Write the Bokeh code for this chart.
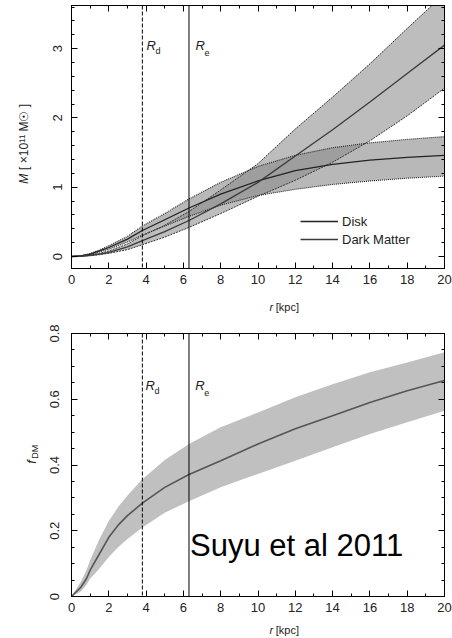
import math
from bokeh.plotting import figure
from bokeh.layouts import column, row
from bokeh.models import (Span, Label, Legend, LegendItem, LinearAxis, SingleIntervalTicker,
                          CustomJSTickFormatter, Range1d, CustomLabelingPolicy)
from bokeh.embed import file_html
from bokeh.resources import INLINE

# ---------------- data ----------------
r_mass = [0, 0.5, 1, 1.5, 2, 3, 3.8, 5, 6.3, 8, 10, 12, 14, 16, 18, 20]
disk_mid = [0, 0.01, 0.035, 0.08, 0.13, 0.25, 0.375, 0.53, 0.70, 0.90, 1.09, 1.24, 1.33, 1.39, 1.43, 1.46]
disk_hi = [0, 0.012, 0.042, 0.095, 0.155, 0.29, 0.44, 0.62, 0.83, 1.07, 1.30, 1.46, 1.57, 1.64, 1.69, 1.73]
disk_lo = [0, 0.008, 0.028, 0.065, 0.105, 0.21, 0.31, 0.44, 0.58, 0.74, 0.88, 0.97, 1.04, 1.09, 1.13, 1.16]
dm_mid = [0, 0.004, 0.015, 0.035, 0.06, 0.14, 0.23, 0.36, 0.52, 0.76, 1.07, 1.45, 1.83, 2.23, 2.64, 3.05]
dm_hi = [0, 0.006, 0.02, 0.045, 0.08, 0.18, 0.30, 0.45, 0.65, 0.96, 1.34, 1.84, 2.30, 2.78, 3.29, 3.79]
dm_lo = [0, 0.003, 0.011, 0.026, 0.045, 0.10, 0.17, 0.28, 0.42, 0.62, 0.87, 1.10, 1.36, 1.67, 2.03, 2.43]

r_frac = [0, 0.5, 0.8, 1, 1.5, 2, 2.5, 3, 3.8, 5, 6.3, 8, 10, 12, 14, 16, 18, 20]
f_mid = [0, 0.028, 0.054, 0.08, 0.13, 0.18, 0.217, 0.246, 0.284, 0.332, 0.371, 0.413, 0.464, 0.51, 0.55, 0.59, 0.626, 0.657]
f_hi = [0, 0.045, 0.08, 0.11, 0.175, 0.23, 0.272, 0.307, 0.357, 0.415, 0.464, 0.515, 0.56, 0.606, 0.646, 0.682, 0.712, 0.743]
f_lo = [0, 0.015, 0.035, 0.054, 0.085, 0.12, 0.15, 0.175, 0.21, 0.255, 0.29, 0.332, 0.373, 0.413, 0.454, 0.494, 0.53, 0.565]

R_d = 3.8
R_e = 6.3
legend_labels = ["Disk", "Dark Matter"]
note = "Suyu et al 2011"

FONT = "Liberation Sans"
TXT = "#222222"
W = 452
YLAB_W = 46
FRAME_L = 71
FRAME_R = 8


def setup(p, y_interval, y_minor, y_fmt=None, y_standoff=9):
    p.outline_line_color = "black"
    p.outline_line_width = 1
    p.xgrid.visible = False
    p.ygrid.visible = False
    xt = SingleIntervalTicker(interval=2, num_minor_ticks=2)
    yt = SingleIntervalTicker(interval=y_interval, num_minor_ticks=y_minor)
    p.xaxis[0].ticker = xt
    p.yaxis[0].ticker = yt
    if y_fmt is not None:
        p.yaxis[0].formatter = y_fmt
    p.yaxis[0].major_label_orientation = "vertical"
    p.yaxis[0].major_label_standoff = y_standoff
    p.xaxis[0].major_label_standoff = 6
    for ax in (p.xaxis[0], p.yaxis[0]):
        ax.major_tick_in = 6
        ax.major_tick_out = 0
        ax.minor_tick_in = 3
        ax.minor_tick_out = 0
        ax.axis_line_color = "black"
        ax.major_tick_line_color = "black"
        ax.minor_tick_line_color = "black"
        ax.major_label_text_font = FONT
        ax.major_label_text_font_size = "13px"
        ax.major_label_text_color = TXT
    # mirrored ticks (no labels)
    for loc, tk in (("right", yt), ("above", xt)):
        ax = LinearAxis(ticker=tk)
        ax.major_tick_in = 6
        ax.major_tick_out = 0
        ax.minor_tick_in = 3
        ax.minor_tick_out = 0
        ax.major_label_policy = CustomLabelingPolicy(code="return []")
        ax.major_label_text_font_size = "1px"
        ax.major_label_standoff = 0
        ax.axis_line_color = "black"
        p.add_layout(ax, loc)
    for loc, st in ((R_d, "4 2"), (R_e, "solid")):
        p.add_layout(Span(location=loc, dimension="height", line_color="black",
                          line_width=1, line_dash=st))


def blank(width, height, x_range, y_range, **borders):
    f = figure(width=width, height=height, output_backend="svg", toolbar_location=None,
               x_range=x_range, y_range=y_range, **borders)
    f.axis.visible = False
    f.grid.visible = False
    f.outline_line_color = None
    return f


# ---------------- top panel ----------------
p1 = figure(width=W - YLAB_W, height=291, output_backend="svg", toolbar_location=None,
            x_range=Range1d(0, 20), y_range=Range1d(-0.173, 3.622),
            min_border_left=FRAME_L - YLAB_W, min_border_right=FRAME_R,
            min_border_top=5, min_border_bottom=23)
setup(p1, 1, 5, y_standoff=9)

p1.varea(x=r_mass, y1=dm_lo, y2=dm_hi, fill_color="#999999", fill_alpha=0.65)
p1.varea(x=r_mass, y1=disk_lo, y2=disk_hi, fill_color="#888888", fill_alpha=0.6)
for arr in (dm_lo, dm_hi):
    p1.line(r_mass, arr, line_color="#333333", line_width=1, line_dash="2 1")
for arr in (disk_lo, disk_hi):
    p1.line(r_mass, arr, line_color="#222222", line_width=1.1, line_dash="1 1")
l_disk = p1.line(r_mass, disk_mid, line_color="#222222", line_width=1.3)
l_dm = p1.line(r_mass, dm_mid, line_color="#3a3a3a", line_width=1.3)

leg = Legend(items=[LegendItem(label=legend_labels[0], renderers=[l_disk]),
                    LegendItem(label=legend_labels[1], renderers=[l_dm])],
             location=(229, 20))
leg.padding = 0
leg.margin = 0
leg.spacing = 0
leg.glyph_width = 38
leg.glyph_height = 18
leg.label_height = 18
leg.label_standoff = 4
leg.label_text_font = FONT
leg.label_text_font_size = "13px"
leg.label_text_color = TXT
leg.border_line_color = None
leg.background_fill_alpha = 0
p1.add_layout(leg)

for xx, sub in ((4.02, "d"), (6.65, "e")):
    p1.add_layout(Label(x=xx, y=2.94, text="R", text_font=FONT, text_font_style="italic",
                        text_font_size="13px", text_color=TXT))
    p1.add_layout(Label(x=xx, y=2.895, x_offset=9, text=sub, text_font=FONT,
                        text_font_size="9px", text_color=TXT))

# y label strip for top panel
yl1 = blank(YLAB_W, 291, Range1d(0, 1), p1.y_range,
            min_border_left=0, min_border_right=0, min_border_top=5, min_border_bottom=23)
yl1.add_layout(Label(x=0.5, y=1.05, text="M", angle=math.pi / 2, text_font=FONT,
                     text_font_style="italic", text_font_size="12px", text_baseline="middle",
                     text_color=TXT))
yl1.add_layout(Label(x=0.5, y=1.25, text="[ ×10¹¹ M☉ ]", angle=math.pi / 2, text_font=FONT,
                     text_font_size="12px", text_baseline="middle", text_color=TXT))

# x label strip for top panel
xl1 = blank(W, 27, p1.x_range, Range1d(0, 1),
            min_border_left=FRAME_L, min_border_right=FRAME_R, min_border_top=0, min_border_bottom=0)
xl1.add_layout(Label(x=10.62, y=0.44, text="r", text_font=FONT, text_font_style="italic",
                     text_font_size="11px", text_baseline="middle", text_color=TXT))
xl1.add_layout(Label(x=10.95, y=0.44, text="[kpc]", text_font=FONT,
                     text_font_size="11px", text_baseline="middle", text_color=TXT))

# ---------------- bottom panel ----------------
fmt = CustomJSTickFormatter(code="return tick == 0 ? '0' : tick.toFixed(1);")
p2 = figure(width=W - YLAB_W, height=301, output_backend="svg", toolbar_location=None,
            x_range=Range1d(0, 20), y_range=Range1d(0, 0.8),
            min_border_left=FRAME_L - YLAB_W, min_border_right=FRAME_R,
            min_border_top=15, min_border_bottom=23)
setup(p2, 0.2, 4, y_fmt=fmt, y_standoff=13)

p2.varea(x=r_frac, y1=f_lo, y2=f_hi, fill_color="#c0c0c0")
p2.line(r_frac, f_mid, line_color="#555555", line_width=1.6)

for xx, sub in ((3.97, "d"), (6.63, "e")):
    p2.add_layout(Label(x=xx, y=0.62, text="R", text_font=FONT, text_font_style="italic",
                        text_font_size="13px", text_color=TXT))
    p2.add_layout(Label(x=xx, y=0.6105, x_offset=9, text=sub, text_font=FONT,
                        text_font_size="9px", text_color=TXT))

p2.add_layout(Label(x=6.3, y=0.103, x_offset=1, text=note, text_font=FONT,
                    text_font_size="31px", text_color="black"))

yl2 = blank(YLAB_W, 301, Range1d(0, 1), p2.y_range,
            min_border_left=0, min_border_right=0, min_border_top=15, min_border_bottom=23)
yl2.add_layout(Label(x=0.68, y=0.404, text="f", angle=math.pi / 2, text_font=FONT,
                     text_font_style="italic", text_font_size="13px", text_baseline="middle",
                     text_color=TXT))
yl2.add_layout(Label(x=0.68, y=0.419, x_offset=3, text="DM", angle=math.pi / 2, text_font=FONT,
                     text_font_size="9px", text_baseline="middle", text_color=TXT))

xl2 = blank(W, 18, p2.x_range, Range1d(0, 1),
            min_border_left=FRAME_L, min_border_right=FRAME_R, min_border_top=0, min_border_bottom=0)
xl2.add_layout(Label(x=10.62, y=0.4, text="r", text_font=FONT, text_font_style="italic",
                     text_font_size="11px", text_baseline="middle", text_color=TXT))
xl2.add_layout(Label(x=10.95, y=0.4, text="[kpc]", text_font=FONT,
                     text_font_size="11px", text_baseline="middle", text_color=TXT))

layout = column(row(yl1, p1, spacing=0), xl1, row(yl2, p2, spacing=0), xl2, spacing=0)
open("out.html", "w").write(file_html(layout, INLINE))
